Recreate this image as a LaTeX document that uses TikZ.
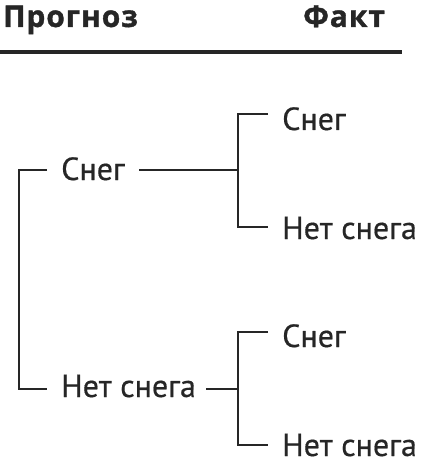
\documentclass[tikz,border=0pt]{standalone}
\usepackage{fontspec}
\setmainfont{PT Sans}
\newfontfamily\lblfont[FakeBold=0.5]{PT Sans}
\newfontfamily\headfont[FakeBold=1.2,LetterSpace=3]{Open Sans Bold}
\begin{document}
\begin{tikzpicture}[x=1pt,y=-1pt,
  lbl/.style={font=\lblfont\fontsize{32}{36}\selectfont, inner sep=0pt, anchor=base west, text=black!85},
  head/.style={font=\headfont\fontsize{30}{34}\selectfont, inner sep=0pt, anchor=base west, text=black!85},
  conn/.style={line width=2.2pt, draw=black!85},
  rule/.style={line width=4pt, draw=black!85}]
\useasboundingbox (0,0) rectangle (421,462);
% headers
\node[head] (hp) at (3,27) {Прогноз};
\node[head] (hf) at (303,27) {Факт};
\coordinate (r1) at (0,52);
\coordinate (r2) at (402,52);
\draw[rule] (r1) -- (r2);
% level 1
\node[lbl] (s1) at (61,180) {Снег};
\node[lbl] (n1) at (61,397) {Нет снега};
% level 2
\node[lbl] (s2a) at (282,130) {Снег};
\node[lbl] (n2a) at (282,239) {Нет снега};
\node[lbl] (s2b) at (282,347) {Снег};
\node[lbl] (n2b) at (282,456) {Нет снега};
% coordinates
\coordinate (rootT) at (19,170);
\coordinate (rootB) at (19,389);
\coordinate (ja) at (238,170);
\coordinate (jb) at (238,389);
\coordinate (ta) at (238,114);
\coordinate (ba) at (238,227);
\coordinate (tb) at (238,332);
\coordinate (bb) at (238,445);
% root bracket
\draw[conn] ([xshift=-14pt]s1.west |- rootT) -- (rootT) -- (rootB) -- ([xshift=-14pt]n1.west |- rootB);
% upper branch
\draw[conn] ([xshift=14pt]s1.east |- ja) -- (ja);
\draw[conn] ([xshift=-14pt]s2a.west |- ta) -- (ta) -- (ba) -- ([xshift=-14pt]n2a.west |- ba);
% lower branch
\draw[conn] ([xshift=10pt]n1.east |- jb) -- (jb);
\draw[conn] ([xshift=-14pt]s2b.west |- tb) -- (tb) -- (bb) -- ([xshift=-14pt]n2b.west |- bb);
\end{tikzpicture}
\end{document}
